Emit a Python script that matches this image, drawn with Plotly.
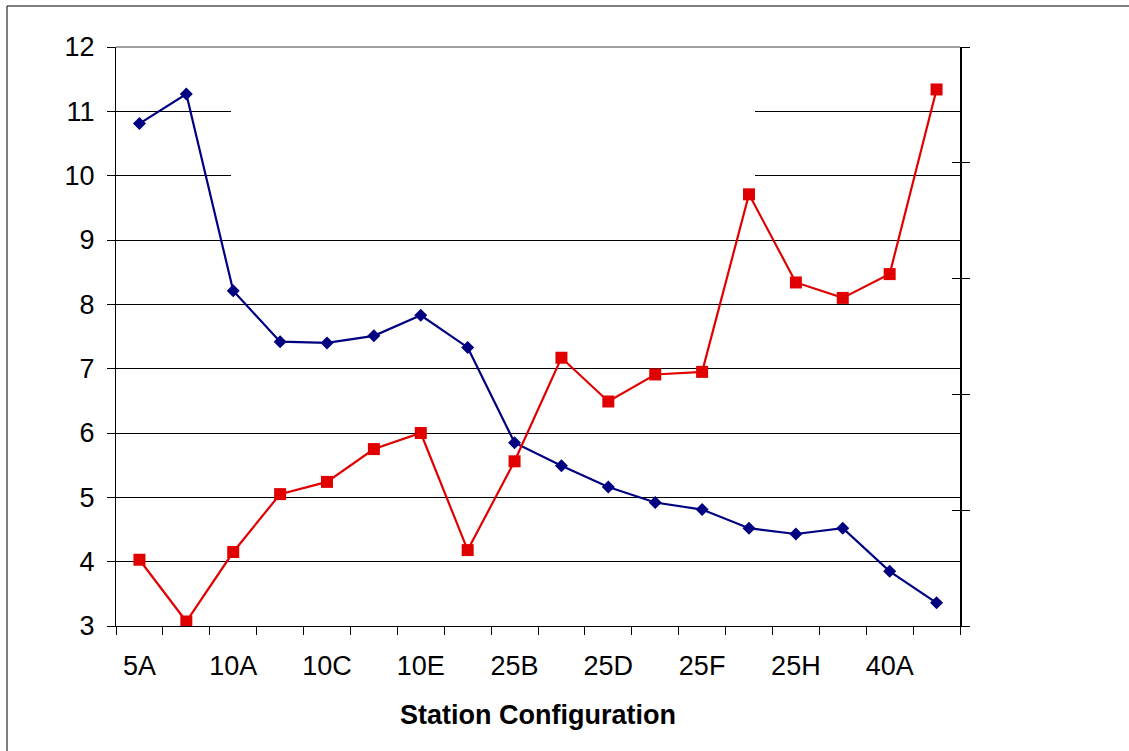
import plotly.graph_objects as go

# Station configurations (every other one is labelled on the axis)
stations = ["5A", "5B", "10A", "10B", "10C", "10D", "10E", "25A", "25B",
            "25C", "25D", "25E", "25F", "25G", "25H", "25I", "40A", "40B"]

series_a = [10.81, 11.27, 8.21, 7.42, 7.40, 7.51, 7.83, 7.33, 5.85,
            5.49, 5.16, 4.92, 4.81, 4.52, 4.43, 4.52, 3.85, 3.36]
series_b = [4.03, 3.07, 4.15, 5.05, 5.24, 5.75, 6.00, 4.18, 5.56,
            7.17, 6.49, 6.91, 6.95, 9.71, 8.34, 8.10, 8.47, 11.34]

W, H = 1129, 751
L, R, T, B = 116, 960, 47, 626  # plot area in pixels

FONT = "Liberation Sans, Arial, sans-serif"
NAVY = "#000080"
RED = "#E00000"

idx = list(range(len(stations)))


def px_x(p):
    return (p - L) / (R - L)


def px_y(p):
    return (B - p) / (B - T)


fig = go.Figure()
fig.add_trace(go.Scatter(
    x=idx, y=series_a, mode="lines+markers", name="series_a",
    line=dict(color=NAVY, width=2.2),
    marker=dict(symbol="diamond", size=10, color=NAVY),
))
fig.add_trace(go.Scatter(
    x=idx, y=series_b, mode="lines+markers", name="series_b",
    line=dict(color=RED, width=2.2),
    marker=dict(symbol="square", size=12, color=RED),
))

fig.update_layout(
    width=W, height=H,
    margin=dict(l=L, r=W - R, t=T, b=H - B, pad=0),
    paper_bgcolor="white", plot_bgcolor="white",
    showlegend=False,
    font=dict(family=FONT, size=27, color="black"),
    xaxis=dict(
        range=[-0.5, len(stations) - 0.5],
        tickmode="array", tickvals=idx[::2], ticktext=stations[::2],
        ticks="", showgrid=False, zeroline=False,
        showline=True, linecolor="black", linewidth=1,
        tickfont=dict(size=27), ticklabelstandoff=16,
        minor=dict(tickmode="linear", tick0=-0.5, dtick=1, ticks="outside",
                   ticklen=8, tickcolor="black", tickwidth=1, showgrid=False),
        title=dict(text="<b>Station Configuration</b>",
                   font=dict(size=27), standoff=24),
        fixedrange=True,
    ),
    yaxis=dict(
        range=[3, 12], dtick=1, tick0=3,
        showgrid=True, gridcolor="black", gridwidth=1,
        zeroline=False, showline=True, linecolor="black", linewidth=1,
        ticks="outside", ticklen=8, tickcolor="black",
        tickfont=dict(size=27), ticklabelstandoff=7,
        fixedrange=True,
    ),
    yaxis2=dict(
        overlaying="y", side="right", range=[0, 5], dtick=1,
        showgrid=False, zeroline=False, showticklabels=False,
        showline=True, linecolor="black", linewidth=1.5,
        ticks="outside", ticklen=8, tickcolor="black",
        fixedrange=True,
    ),
    yaxis3=dict(
        overlaying="y", side="right", range=[0, 5], dtick=1,
        showgrid=False, zeroline=False, showticklabels=False,
        showline=False, ticks="inside", ticklen=8, tickcolor="black",
        fixedrange=True,
    ),
)

# top gridline drawn lighter
fig.add_shape(
    type="line", xref="paper", yref="paper", layer="above",
    x0=0, x1=1, y0=1, y1=1, line=dict(color="#808080", width=1.5),
)

# empty legend panel masking part of the upper gridlines
fig.add_shape(
    type="rect", xref="paper", yref="paper", layer="above",
    x0=px_x(231), x1=px_x(755), y0=px_y(186), y1=px_y(100),
    fillcolor="white", line=dict(width=0),
)

# chart area border
fig.add_shape(
    type="rect", xref="paper", yref="paper", layer="above",
    x0=px_x(7), x1=px_x(W + 10), y0=px_y(H + 10), y1=px_y(6),
    line=dict(color="black", width=1), fillcolor="rgba(0,0,0,0)",
)

# keep the right-hand axes drawn even though no trace uses them
for ax in ("y2", "y3"):
    fig.add_trace(go.Scatter(x=[None], y=[None], yaxis=ax, showlegend=False,
                             hoverinfo="skip"))

fig.write_html("out.html", config={"displayModeBar": False})
